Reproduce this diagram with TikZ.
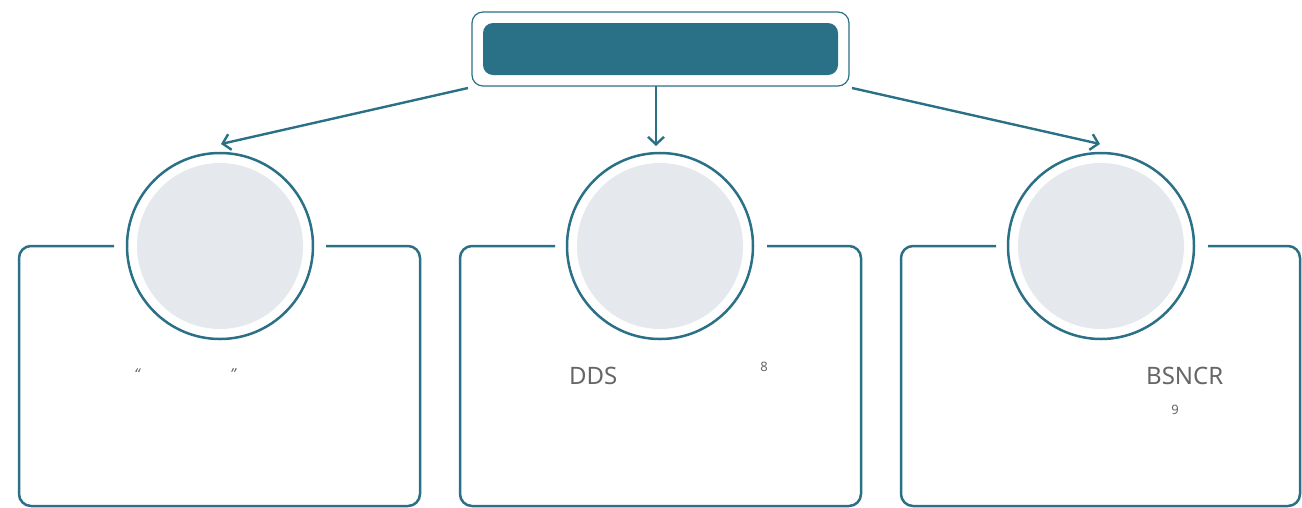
\documentclass[tikz,border=0pt]{standalone}
\usepackage{fontspec}
\setmainfont{Noto Sans}
\usetikzlibrary{arrows.meta}
\definecolor{teal}{HTML}{2A7086}
\definecolor{lgray}{HTML}{E5E9EE}
\definecolor{tgray}{HTML}{666666}
\tikzset{
  conn/.style={draw=teal, line width=2.4pt, -{Straight Barb[length=7.5pt,width=16pt,line width=2.4pt]}},
  ring/.style={circle, draw=teal, line width=2.5pt, fill=white, minimum size=186pt, inner sep=0pt},
  disc/.style={circle, fill=lgray, minimum size=166pt, inner sep=0pt},
  card/.style={draw=teal, line width=2.5pt, rounded corners=12pt},
  big/.style={text=tgray, font=\fontsize{24}{28}\selectfont, inner sep=0pt},
  small/.style={text=tgray, font=\fontsize{13}{15}\selectfont, inner sep=0pt},
}
\begin{document}
\begin{tikzpicture}[x=1pt,y=-1pt]
\useasboundingbox (0,0) rectangle (1302,507);
% top box
\node[draw=teal, line width=1.2pt, rounded corners=11pt, minimum width=377pt, minimum height=74pt, inner sep=0pt] (top) at (660.5,49) {};
\node[fill=teal, rounded corners=10pt, minimum width=355pt, minimum height=52pt, inner sep=0pt] (topin) at (660.5,49) {};
% cards
\draw[card] (114,246) -- (19,246) -- (19,506) -- (420,506) -- (420,246) -- (326,246);
\draw[card] (555,246) -- (460,246) -- (460,506) -- (861,506) -- (861,246) -- (767,246);
\draw[card] (996,246) -- (901,246) -- (901,506) -- (1300,506) -- (1300,246) -- (1208,246);
% circles
\node[ring] (c1) at (220,246) {};
\node[disc] (d1) at (220,246) {};
\node[ring] (c2) at (660,246) {};
\node[disc] (d2) at (660,246) {};
\node[ring] (c3) at (1101,246) {};
\node[disc] (d3) at (1101,246) {};
% arrows
\coordinate (s1) at (468,88);
\coordinate (e1) at (221,144);
\coordinate (s3) at (852,88);
\coordinate (e3) at (1100,144);
\coordinate (s2) at (656,86);
\coordinate (e2) at (656,146);
\draw[conn] (s1) -- (e1);
\draw[conn] (s2) -- (e2);
\draw[conn] (s3) -- (e3);
% texts
\node[small, font=\fontsize{15}{17}\selectfont\itshape] (q1) at (137,374) {“};
\node[small, font=\fontsize{15}{17}\selectfont\itshape] (q2) at (233,374) {”};
\node[big, anchor=west] (dds) at (569,376) {DDS};
\node[small] (n8) at (764,367) {8};
\node[big, anchor=west] (bs) at (1146,376) {BSNCR};
\node[small] (n9) at (1175,410) {9};
\end{tikzpicture}
\end{document}
